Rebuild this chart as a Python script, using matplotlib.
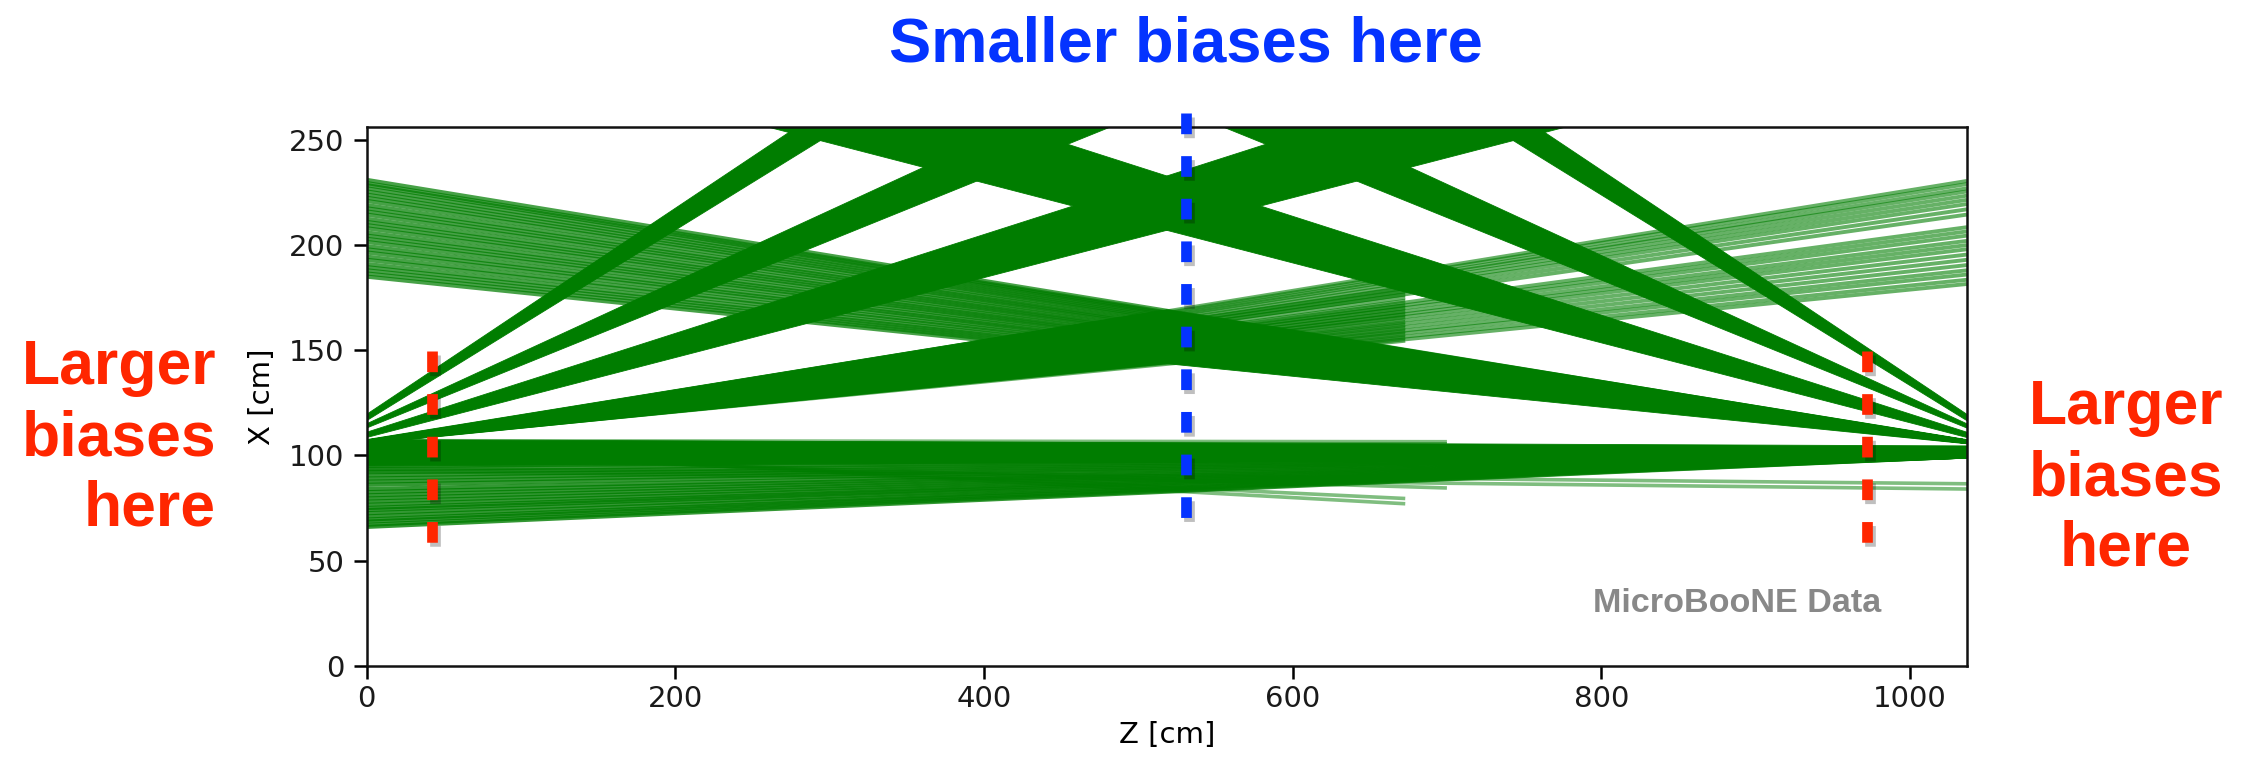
import matplotlib
matplotlib.use("Agg")
import matplotlib.pyplot as plt
from matplotlib.patches import Polygon
from matplotlib.collections import LineCollection
import matplotlib.patheffects as pe

plt.rcParams["lines.scale_dashes"] = False

# Detector extent (cm)
Z_LEN = 1037.0
X_LEN = 256.0

# Dense laser fans drawn as filled wedges.
# side: "L" enters at Z=0, "R" enters at Z=Z_LEN; X = x0 + slope * (distance from entry side)
fan_side = ["L", "L", "L", "L", "R", "R", "R", "R", "R"]
fan_x0_lo = [116.5, 113.0, 108.5, 105.5, 116.5, 113.0, 108.5, 105.5, 98.5]
fan_x0_hi = [119.5, 115.0, 111.0, 107.5, 119.5, 115.0, 111.0, 107.5, 104.5]
fan_slope_lo = [0.453, 0.297, 0.190, 0.0735, 0.453, 0.297, 0.190, 0.0735, -0.0034]
fan_slope_hi = [0.490, 0.338, 0.235, 0.1190, 0.490, 0.338, 0.235, 0.1190, 0.0029]
fan_length = [1037.0, 1037.0, 1037.0, 518.5, 1037.0, 1037.0, 1037.0, 518.5, 1037.0]

# Individual tracks of the shallow upstream fan (start Z=0, X=106.5), X at Z=1037
l4_x0 = 106.5
l4_end_x = [230.5, 229.0, 227.0, 225.5, 223.5, 221.5, 219.5, 217.0, 214.5,
            208.5, 206.5, 204.5, 202.0, 200.0, 198.0, 195.5, 193.0, 190.5,
            188.0, 186.0, 183.5, 181.5]
# tracks of the same fan that stop at Z=673
l4_stub_z = 673.0
l4_stub_x = [154.5, 156.0, 157.5, 159.0, 160.5, 162.0, 163.5, 165.5, 167.0,
             168.5, 170.0, 171.5, 173.5, 175.0, 176.5, 178.0, 179.5]

# Individual tracks of the shallow downstream fan (start Z=1037, X=106.5), X at Z=0
r4_x0 = 106.5
r4_end_x = [231.0, 229.5, 228.5, 227.0, 225.5, 224.0, 222.5, 221.0, 219.0, 217.5,
            216.0, 214.5, 212.5, 211.0, 209.5, 208.0, 206.0, 204.5, 203.0, 201.5,
            199.5, 198.0, 196.5, 194.5, 193.0, 191.0, 189.5, 188.0, 186.5, 185.0]

# Near-horizontal downstream fan (start Z=1037, X=99.5), X at Z=0
r5_x0 = 99.5
r5_end_x = [66.0, 67.0, 68.5, 69.5, 71.0, 72.5, 74.0, 75.0, 76.5, 78.0,
            79.5, 81.0, 82.5, 84.0, 86.0, 87.5, 89.0, 90.5, 92.0, 93.5, 95.0]

# Other faint tracks: (z start, x start) -> (z end, x end)
extra_z0 = [0.0, 0.0, 0.0, 0.0, 0.0, 0.0, 0.0]
extra_x0 = [94.0, 92.5, 104.0, 103.0, 100.0, 107.0, 106.0]
extra_z1 = [1037.0, 1037.0, 673.0, 673.0, 700.0, 700.0, 700.0]
extra_x1 = [86.5, 84.0, 77.0, 79.5, 84.5, 106.5, 105.5]

# Highlight markers
red_marker_z = [42.4, 972.3]
red_marker_x = (149.5, 58.4)
blue_marker_z = 530.9
blue_marker_x = (263.0, 70.3)

GREEN = "#007d00"
RED = "#ff2600"
BLUE = "#0433ff"

fig = plt.figure(figsize=(22.46, 7.58), dpi=100)
ax = fig.add_axes([0.16323, 0.12177, 0.71255, 0.71029])

# filled fans
for side, lo, hi, slo, shi, length in zip(fan_side, fan_x0_lo, fan_x0_hi,
                                         fan_slope_lo, fan_slope_hi, fan_length):
    if side == "L":
        z_a, z_b = 0.0, length
    else:
        z_a, z_b = Z_LEN, Z_LEN - length
    verts = [(z_a, lo), (z_b, lo + slo * length), (z_b, hi + shi * length), (z_a, hi)]
    ax.add_patch(Polygon(verts, closed=True, facecolor=GREEN, edgecolor=GREEN,
                         linewidth=0.6, zorder=2))

# individual tracks
segs_r4 = [[(Z_LEN, r4_x0), (0.0, xe)] for xe in r4_end_x]
ax.add_collection(LineCollection(segs_r4, colors=GREEN, linewidths=3.0, alpha=0.72, zorder=2))

segs_l4 = [[(0.0, l4_x0), (Z_LEN, xe)] for xe in l4_end_x]
segs_l4 += [[(0.0, l4_x0), (l4_stub_z, xe)] for xe in l4_stub_x]
ax.add_collection(LineCollection(segs_l4, colors=GREEN, linewidths=2.8, alpha=0.6, zorder=2))

segs_r5 = [[(Z_LEN, r5_x0), (0.0, xe)] for xe in r5_end_x]
ax.add_collection(LineCollection(segs_r5, colors=GREEN, linewidths=3.0, alpha=0.8, zorder=2))

segs_extra = [[(a, b), (c, d)] for a, b, c, d in zip(extra_z0, extra_x0, extra_z1, extra_x1)]
ax.add_collection(LineCollection(segs_extra, colors=GREEN, linewidths=2.6, alpha=0.5, zorder=2))

ax.set_xlim(0, Z_LEN)
ax.set_ylim(0, X_LEN)
ax.set_xticks([0, 200, 400, 600, 800, 1000])
ax.set_yticks([0, 50, 100, 150, 200, 250])
ax.tick_params(axis="both", direction="out", length=9.5, width=1.8, labelsize=21,
               labelcolor="#1a1a1a")
ax.tick_params(axis="x", pad=4.5)
ax.tick_params(axis="y", pad=6.5)
for sp in ax.spines.values():
    sp.set_linewidth(1.8)
    sp.set_color("#111111")
ax.set_xlabel("Z [cm]", fontsize=21, labelpad=6)
ax.set_ylabel("X [cm]", fontsize=21, labelpad=9.5)

ax.text(0.766, 0.1003, "MicroBooNE Data", transform=ax.transAxes, ha="left",
        va="baseline", fontsize=24.6, fontweight="bold", color="#888888",
        family="Liberation Sans", zorder=4)

# dashed markers
shadow = [pe.SimpleLineShadow(offset=(2, -3), shadow_color="k", alpha=0.25), pe.Normal()]
for z in red_marker_z:
    ax.plot([z, z], red_marker_x, color=RED, lw=7.7, linestyle=(0, (14.9, 15.8)),
            dash_capstyle="butt", clip_on=False, zorder=5, path_effects=shadow)
ax.plot([blue_marker_z, blue_marker_z], blue_marker_x, color=BLUE, lw=7.7,
        linestyle=(0, (14.9, 15.8)), dash_capstyle="butt", clip_on=False, zorder=5,
        path_effects=shadow)

# annotations
W, H = 2246.0, 758.0
fig.text(1185.5 / W, 1 - 62 / H, "Smaller biases here", ha="center", va="baseline",
         fontsize=45.5, fontweight="bold", color=BLUE, family="Liberation Sans")
for line, base in zip(["Larger", "biases", "here"], [384, 455, 525]):
    fig.text(216 / W, 1 - base / H, line, ha="right", va="baseline", fontsize=45,
             fontweight="bold", color=RED, family="Liberation Sans")
for line, base in zip(["Larger", "biases", "here"], [424, 495, 565]):
    fig.text(2126 / W, 1 - base / H, line, ha="center", va="baseline", fontsize=45,
             fontweight="bold", color=RED, family="Liberation Sans")

fig.savefig("out.png", dpi=100, facecolor="white")
